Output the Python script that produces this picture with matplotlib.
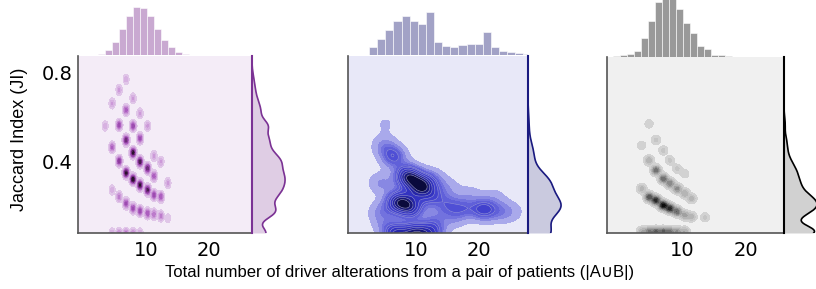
import numpy as np
import matplotlib.pyplot as plt
from matplotlib.colors import LinearSegmentedColormap

# ---- data ----
# panel 1 (purple): blob centres (|AuB|, JI) and relative weight
p1_x = [6.9, 5.8, 4.7, 8.0, 6.9, 3.6, 5.8, 9.1, 8.0, 10.3, 4.7, 6.9, 9.1, 11.3,
        5.8, 8.0, 9.1, 10.3, 12.4, 11.3, 6.9, 8.0, 9.1, 10.3, 11.3, 12.4, 13.5,
        4.7, 5.8, 6.9, 8.0, 9.1, 10.3, 11.3, 12.4, 13.5,
        4.7, 5.8, 6.9, 8.0, 9.1]
p1_y = [0.770, 0.722, 0.661, 0.684, 0.631, 0.559, 0.563, 0.616, 0.559, 0.559, 0.462, 0.495, 0.503, 0.423,
        0.400, 0.438, 0.397, 0.367, 0.397, 0.332, 0.347, 0.317, 0.291, 0.269, 0.246, 0.238, 0.300,
        0.269, 0.238, 0.208, 0.186, 0.174, 0.163, 0.159, 0.151, 0.141,
        0.072, 0.072, 0.072, 0.072, 0.072]
p1_w = [0.15, 0.2, 0.2, 0.2, 0.45, 0.15, 0.5, 0.2, 0.55, 0.2, 0.4, 0.75, 0.5, 0.2,
        0.6, 0.9, 0.85, 0.75, 0.2, 0.45, 0.9, 1.0, 0.9, 0.8, 0.5, 0.45, 0.2,
        0.15, 0.3, 0.5, 0.5, 0.5, 0.45, 0.35, 0.3, 0.1,
        0.2, 0.3, 0.35, 0.3, 0.2]
p1_hist_start, p1_hist_width = 1.36, 1.106
p1_hist = [2, 5, 16, 40, 79, 119, 145, 143, 119, 79, 46, 26, 10, 4, 2, 2, 2, 2, 2, 2, 2]

# panel 2 (blue): smooth density components
p2_x = [8.8, 10.8, 7.3, 9.2,
        6.5, 5.0, 12.5, 15.0, 18.5, 22.5,
        12.5, 15.0, 17.5, 20.7, 23.5, 25.5,
        7.0, 10.0, 12.5,
        4.5, 4.5, 5.0, 13.0, 16.0, 5.2]
p2_y = [0.33, 0.285, 0.215, 0.19,
        0.42, 0.47, 0.32, 0.28, 0.25, 0.24,
        0.24, 0.20, 0.185, 0.18, 0.17, 0.17,
        0.068, 0.068, 0.07,
        0.30, 0.17, 0.11, 0.13, 0.14, 0.57]
p2_w = [0.6, 0.6, 0.55, 0.45,
        0.3, 0.15, 0.15, 0.1, 0.08, 0.07,
        0.25, 0.2, 0.2, 0.35, 0.15, 0.07,
        0.5, 0.6, 0.35,
        0.15, 0.15, 0.1, 0.15, 0.1, 0.07]
p2_hist_start, p2_hist_width = 2.62, 1.282
p2_hist = [26, 50, 77, 104, 119, 104, 95, 131, 41, 29, 26, 30, 33, 33, 71, 26, 14, 11, 8, 5]

# panel 3 (grey)
p3_x = [4.75, 3.6, 5.85, 7.0, 8.06, 9.2, 10.4,
        4.75, 5.85, 7.0, 8.06, 9.2, 10.4, 11.5,
        3.6, 4.75, 5.85, 7.0, 8.06, 9.2, 10.4, 11.5, 13.6,
        3.6, 4.75, 5.85, 7.0, 8.06, 9.2, 10.4]
p3_y = [0.571, 0.473, 0.498, 0.450, 0.405, 0.367, 0.344,
        0.405, 0.360, 0.322, 0.300, 0.276, 0.254, 0.231,
        0.276, 0.238, 0.223, 0.200, 0.186, 0.171, 0.155, 0.148, 0.145,
        0.080, 0.080, 0.080, 0.080, 0.080, 0.080, 0.080]
p3_w = [0.12, 0.12, 0.15, 0.15, 0.15, 0.15, 0.12,
        0.3, 0.6, 0.6, 0.5, 0.45, 0.3, 0.25,
        0.25, 0.7, 0.85, 1.0, 0.85, 0.6, 0.35, 0.25, 0.15,
        0.3, 0.5, 0.6, 0.6, 0.5, 0.4, 0.3]
p3_hist_start, p3_hist_width = -0.88, 1.104
p3_hist = [2, 3, 6, 17, 53, 104, 161, 175, 175, 140, 99, 68, 32, 23, 5, 5, 2]

xticks = [10, 20]
yticks = [0.4, 0.8]
ylim = (0.074, 0.876)

W, H = 816, 289
fig = plt.figure(figsize=(W / 100, H / 100), dpi=100)


def rect(x0, y0, x1, y1):
    return [x0 / W, 1 - y1 / H, (x1 - x0) / W, (y1 - y0) / H]


def density(xs, ys, ws, sx, sy, X, Y):
    Z = np.zeros_like(X)
    for x, y, w in zip(xs, ys, ws):
        Z += w * np.exp(-((X - x) ** 2) / (2 * sx ** 2) - ((Y - y) ** 2) / (2 * sy ** 2))
    return Z


def iso_levels(Z, props):
    # density value enclosing a given share of the mass (as seaborn does)
    vals = np.sort(Z.ravel())[::-1]
    cum = np.cumsum(vals) / vals.sum()
    idx = np.searchsorted(cum, 1 - np.asarray(props))
    lv = np.take(vals, idx, mode="clip")
    lv[-1] = Z.max() * 1.01
    return np.unique(lv)


panels = [
    dict(xs=p1_x, ys=p1_y, ws=p1_w, sx=0.26, sy=0.013, bw=0.03,
         hs=p1_hist_start, hw=p1_hist_width, hist=p1_hist,
         box=(78, 56, 252, 233), xlim=(-0.7, 26.8),
         bg="#f4ecf7", hcol="#c9a9d1", lcol="#7b3294", fcol="#dcc8e2",
         cmap=["#e4d0ec", "#cc98d8", "#a858bc", "#8a3a9a", "#4a1c50", "#180a18"],
         levels=[0.03, 0.1, 0.18, 0.27, 0.36, 0.45, 0.55, 0.65, 0.75, 0.87, 1.01]),
    dict(xs=p2_x, ys=p2_y, ws=p2_w, sx=1.4, sy=0.035, bw=0.045,
         hs=p2_hist_start, hw=p2_hist_width, hist=p2_hist,
         box=(348, 56, 528, 233), xlim=(-0.7, 27.7),
         bg="#e8e8f8", hcol="#a2a2c6", lcol="#1a1a80", fcol="#c5c5dc",
         cmap=["#bcbcf0", "#8282e2", "#4c4cd4", "#3636c6", "#2222a2", "#101058", "#04041a"],
         levels=None),
    dict(xs=p3_x, ys=p3_y, ws=p3_w, sx=0.45, sy=0.013, bw=0.03,
         hs=p3_hist_start, hw=p3_hist_width, hist=p3_hist,
         box=(607, 57, 784, 233), xlim=(-1.9, 26.1),
         bg="#f0f0f0", hcol="#999999", lcol="#000000", fcol="#cccccc",
         cmap=["#d8d8d8", "#b8b8b8", "#909090", "#606060", "#303030", "#000000"],
         levels=[0.04, 0.12, 0.2, 0.3, 0.4, 0.5, 0.6, 0.7, 0.8, 0.9, 1.01]),
]

for i, p in enumerate(panels):
    x0, y0, x1, y1 = p["box"]
    ax = fig.add_axes(rect(x0, y0, x1, y1))
    ax.set_facecolor(p["bg"])
    gx = np.linspace(p["xlim"][0], p["xlim"][1], 500)
    gy = np.linspace(ylim[0] - 0.02, ylim[1], 500)
    X, Y = np.meshgrid(gx, gy)
    Z = density(p["xs"], p["ys"], p["ws"], p["sx"], p["sy"], X, Y)
    Z = Z / Z.max()
    levels = p["levels"]
    if levels is None:
        levels = iso_levels(Z, np.linspace(0.05, 1, 11))
    cm = LinearSegmentedColormap.from_list("c%d" % i, p["cmap"])
    ax.contourf(X, Y, Z, levels=levels, cmap=cm)
    if i == 1:
        ax.contour(X, Y, Z, levels=levels[4:-1], colors="#9a9ad8", linewidths=0.4)
    ax.set_xlim(p["xlim"])
    ax.set_ylim(ylim)
    ax.set_xticks(xticks)
    ax.set_xticklabels([str(t) for t in xticks])
    ax.tick_params(axis="x", length=0, pad=6, labelsize=14)
    if i == 0:
        ax.set_yticks(yticks)
        ax.set_yticklabels(["0.4", "0.8"])
        ax.tick_params(axis="y", length=0, pad=4, labelsize=14)
    else:
        ax.set_yticks([])
    ax.spines["top"].set_visible(False)
    ax.spines["right"].set_visible(False)
    for s in ("left", "bottom"):
        ax.spines[s].set_color("#555555")
        ax.spines[s].set_linewidth(1.2)

    # top histogram
    axt = fig.add_axes(rect(x0, 0, x1, y0 - 0.5))
    edges = p["hs"] + p["hw"] * np.arange(len(p["hist"]))
    axt.bar(edges, p["hist"], width=p["hw"], align="edge", color=p["hcol"],
            edgecolor="white", linewidth=0.4)
    axt.set_xlim(p["xlim"])
    axt.set_ylim(0, 166)
    axt.axis("off")

    # right marginal
    axr = fig.add_axes(rect(x1, y0, x1 + 40, y1))
    my = np.linspace(ylim[0], ylim[1], 600)
    md = np.zeros_like(my)
    for y, w in zip(p["ys"], p["ws"]):
        md += w * np.exp(-((my - y) ** 2) / (2 * p["bw"] ** 2))
    md = md / md.max()
    axr.fill_betweenx(my, 0, md, color=p["fcol"], alpha=0.9, linewidth=0)
    axr.plot(md, my, color=p["lcol"], linewidth=1.2)
    axr.set_xlim(0, 1.21)
    axr.set_ylim(ylim)
    axr.set_xticks([])
    axr.set_yticks([])
    for s in ("top", "right", "bottom"):
        axr.spines[s].set_visible(False)
    axr.spines["left"].set_color(p["lcol"])
    axr.spines["left"].set_linewidth(1.5)
    axr.patch.set_alpha(0)

fig.text(20 / W, 1 - 139 / H, "Jaccard Index (JI)", rotation=90, ha="center", va="center",
         family=["Liberation Sans", "DejaVu Sans"], fontsize=13)
fig.text(400 / W, 1 - 272 / H, "Total number of driver alterations from a pair of patients (|A\u222aB|)",
         ha="center", va="center", family=["Liberation Sans", "DejaVu Sans"], fontsize=12)

fig.savefig("out.png", dpi=100)
